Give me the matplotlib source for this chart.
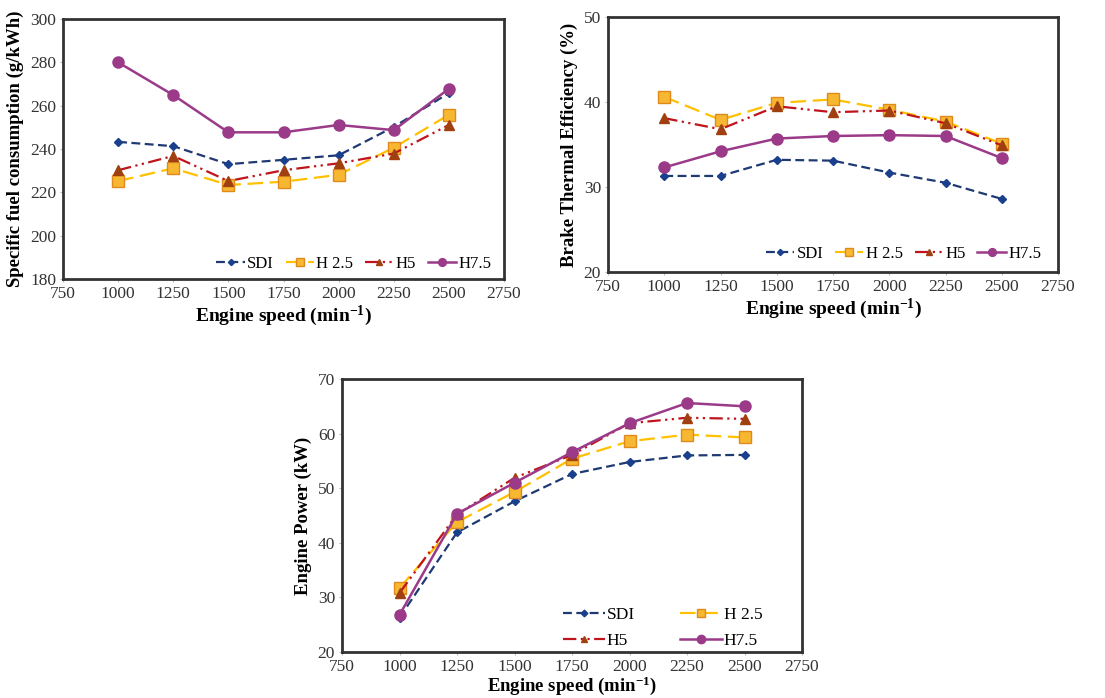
import matplotlib
matplotlib.use("Agg")
import matplotlib.pyplot as plt

plt.rcParams['font.family'] = ['Liberation Serif', 'DejaVu Serif']
plt.rcParams['mathtext.fontset'] = 'custom'
plt.rcParams['mathtext.rm'] = 'Liberation Serif'
plt.rcParams['mathtext.bf'] = 'Liberation Serif:bold'
plt.rcParams['mathtext.default'] = 'bf'

speed = [1000, 1250, 1500, 1750, 2000, 2250, 2500]
series_names = ["SDI", "H 2.5", "H5", "H7.5"]

sfc_sdi = [243.3, 241.3, 233.0, 235.0, 237.1, 250.2, 265.8]
sfc_h25 = [225.2, 231.1, 223.4, 224.9, 228.1, 240.6, 255.8]
sfc_h5 = [230.2, 236.8, 225.2, 230.2, 233.4, 237.9, 251.1]
sfc_h75 = [280.0, 264.9, 247.7, 247.7, 251.1, 248.7, 267.8]

bte_sdi = [31.3, 31.3, 33.2, 33.1, 31.7, 30.5, 28.6]
bte_h25 = [40.6, 37.9, 39.9, 40.3, 39.1, 37.7, 35.1]
bte_h5 = [38.1, 36.8, 39.5, 38.8, 39.0, 37.5, 34.9]
bte_h75 = [32.3, 34.2, 35.7, 36.0, 36.1, 36.0, 33.4]

pow_sdi = [26.3, 41.9, 47.6, 52.6, 54.8, 56.0, 56.1]
pow_h25 = [31.7, 43.8, 49.3, 55.4, 58.6, 59.8, 59.3]
pow_h5 = [30.8, 45.2, 51.9, 56.1, 61.9, 62.9, 62.7]
pow_h75 = [26.8, 45.3, 51.0, 56.6, 61.9, 65.6, 65.0]

styles = [
    dict(color='#1f3a73', ls=(0, (4, 2)), marker='D', ms=4.5, mfc='#1a3f8c', mec='#1a3f8c', lw=1.6),
    dict(color='#ffc000', ls=(0, (7, 3)), marker='s', ms=8, mfc='#f7b731', mec='#e08a1e', lw=1.6),
    dict(color='#c0141c', ls=(0, (6, 2, 1, 2, 1, 2)), marker='^', ms=6.5, mfc='#a04010', mec='#a04010', lw=1.6),
    dict(color='#9b3a88', ls='-', marker='o', ms=8, mfc='#9b3a88', mec='#9b3a88', lw=1.8),
]

W, H = 1105, 698
fig = plt.figure(figsize=(W / 100, H / 100), dpi=100)


def make_ax(l, t, r, b):
    return fig.add_axes([l / W, 1 - b / H, (r - l) / W, (b - t) / H])


def style_ax(ax, ylim, yticks, ylabel):
    ax.set_xlim(750, 2750)
    ax.set_xticks([750, 1000, 1250, 1500, 1750, 2000, 2250, 2500, 2750])
    ax.set_ylim(*ylim)
    ax.set_yticks(yticks)
    for s in ax.spines.values():
        s.set_linewidth(2.0)
        s.set_color('#333333')
    ax.tick_params(length=2, width=0.8, color='#bbbbbb', labelsize=12.5, labelcolor='#333333', pad=3)
    ax.set_xlabel('Engine speed (min$^{\\mathbf{-1}}$)', fontsize=14, fontweight='bold', labelpad=1)
    ax.set_ylabel(ylabel, fontsize=13.5, fontweight='bold', labelpad=4)


def plot_series(ax, data):
    lines = []
    for name, vals, st in zip(series_names, data, styles):
        ln, = ax.plot(speed, vals, label=name, **st)
        lines.append(ln)
    return lines


top_leg = dict(ncol=4, loc='lower right', frameon=False, fontsize=12, handlelength=1.7,
               handletextpad=0.15, columnspacing=0.7, borderaxespad=0.2, markerscale=0.7)

ax1 = make_ax(63, 19, 504, 279)
plot_series(ax1, [sfc_sdi, sfc_h25, sfc_h5, sfc_h75])
ax1.legend(bbox_to_anchor=(0.995, -0.01), **top_leg)
style_ax(ax1, (180, 300), [180, 200, 220, 240, 260, 280, 300], 'Specific fuel consumption (g/kWh)')

ax2 = make_ax(608, 17, 1058, 272)
plot_series(ax2, [bte_sdi, bte_h25, bte_h5, bte_h75])
ax2.legend(bbox_to_anchor=(0.985, 0.0), **top_leg)
style_ax(ax2, (20, 50), [20, 30, 40, 50], 'Brake Thermal Efficiency (%)')

ax3 = make_ax(342, 379, 802, 652)
l3 = plot_series(ax3, [pow_sdi, pow_h25, pow_h5, pow_h75])
order = [0, 2, 1, 3]
ax3.legend([l3[i] for i in order], [series_names[i] for i in order], ncol=2, loc='lower right',
           bbox_to_anchor=(0.94, -0.035),
           frameon=False, fontsize=12.5, handlelength=2.4, handletextpad=0.1, columnspacing=2.6,
           borderaxespad=0.3, labelspacing=0.6, markerscale=0.75)
style_ax(ax3, (20, 70), [20, 30, 40, 50, 60, 70], 'Engine Power (kW)')
ax3.xaxis.label.set_fontsize(13.5)
ax3.xaxis.labelpad = 0

fig.savefig('out.png', dpi=100)
